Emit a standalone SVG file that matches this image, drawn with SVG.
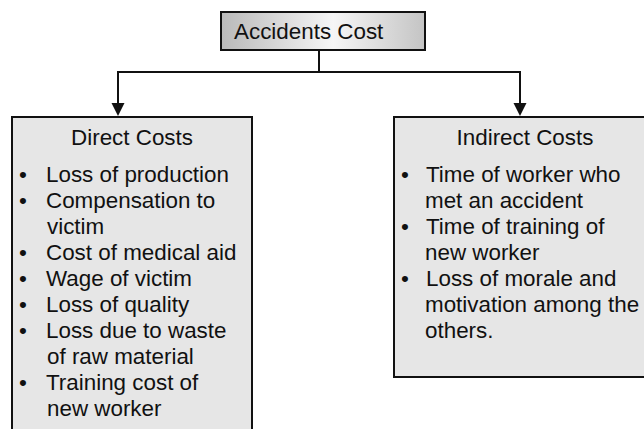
<svg xmlns="http://www.w3.org/2000/svg" width="644" height="429" viewBox="0 0 644 429">
  <style>
    .box { fill: #e6e6e6; stroke: #111; stroke-width: 2; }
    .wire { fill: none; stroke: #111; stroke-width: 2; }
    .head { fill: #111; }
    text { font-family: "Liberation Sans", Arial, sans-serif; font-size: 22.4px; fill: #111; }
    .mid { text-anchor: middle; }
  </style>
  <defs>
    <linearGradient id="topFill" x1="0" y1="0" x2="1" y2="0">
      <stop offset="0" stop-color="#b9b9b9"/>
      <stop offset="0.55" stop-color="#f6f6f6"/>
      <stop offset="1" stop-color="#c4c4c4"/>
    </linearGradient>
  </defs>

  <!-- connectors: trunk, bar and two arrowed drops -->
  <g id="connectors">
    <path class="wire" d="M319,50 V72"/>
    <path class="wire" d="M118,72 H520"/>
    <line class="wire" x1="118" y1="71" x2="118" y2="103"/>
    <path class="head" d="M111.5,103 L124.5,103 L118,116 Z"/>
    <line class="wire" x1="520" y1="71" x2="520" y2="103"/>
    <path class="head" d="M513.5,103 L526.5,103 L520,116 Z"/>
  </g>

  <!-- root node -->
  <g id="accidents-cost">
    <rect x="221" y="12" width="204" height="38" fill="url(#topFill)" stroke="#111" stroke-width="2"/>
    <text x="234" y="39">Accidents Cost</text>
  </g>

  <!-- direct costs -->
  <g id="direct-costs">
    <rect class="box" x="12" y="117" width="240" height="330"/>
    <text class="mid" x="132" y="145">Direct Costs</text>
    <text x="19" y="182">•</text><text x="46" y="182">Loss of production</text>
    <text x="19" y="208">•</text><text x="46" y="208">Compensation to</text>
    <text x="47" y="234">victim</text>
    <text x="19" y="260">•</text><text x="46" y="260">Cost of medical aid</text>
    <text x="19" y="286">•</text><text x="46" y="286">Wage of victim</text>
    <text x="19" y="312">•</text><text x="46" y="312">Loss of quality</text>
    <text x="19" y="338">•</text><text x="46" y="338">Loss due to waste</text>
    <text x="47" y="364">of raw material</text>
    <text x="19" y="390">•</text><text x="46" y="390">Training cost of</text>
    <text x="47" y="416">new worker</text>
  </g>

  <!-- indirect costs -->
  <g id="indirect-costs">
    <rect class="box" x="394" y="117" width="258" height="260"/>
    <text class="mid" x="525" y="145">Indirect Costs</text>
    <text x="401" y="182">•</text><text x="426" y="182">Time of worker who</text>
    <text x="425" y="208">met an accident</text>
    <text x="401" y="234">•</text><text x="426" y="234">Time of training of</text>
    <text x="425" y="260">new worker</text>
    <text x="401" y="286">•</text><text x="426" y="286">Loss of morale and</text>
    <text x="425" y="312">motivation among the</text>
    <text x="425" y="338">others.</text>
  </g>
</svg>
